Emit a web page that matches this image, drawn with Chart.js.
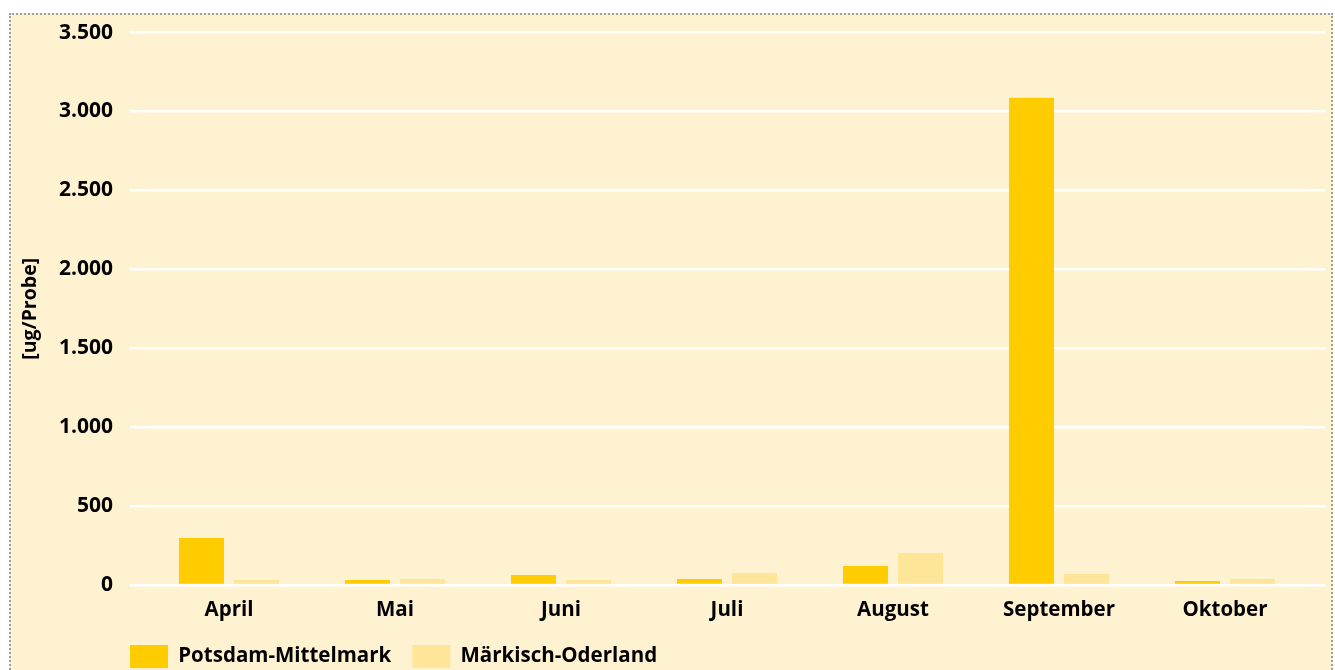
<!DOCTYPE html>
<html>
<head>
<meta charset="utf-8">
<script src="https://cdn.jsdelivr.net/npm/chart.js@4/dist/chart.umd.min.js"></script>
<style>
  html, body { margin: 0; padding: 0; background: #ffffff; overflow: hidden; width: 1335px; height: 670px; }
  #box { position: absolute; left: 9px; top: 13px; width: 1320px; height: 680px;
         border: 2px dotted #a0a0a0; background: #FFF2D1; }
  #wrap { position: absolute; left: 0; top: -12px; width: 1320px; height: 675px; }
</style>
</head>
<body>
<div id="box"><div id="wrap"><canvas id="c"></canvas></div></div>
<script>
const categories = ['April', 'Mai', 'Juni', 'Juli', 'August', 'September', 'Oktober'];
const potsdamMittelmark = [298, 32, 63, 38, 120, 3088, 25];
const maerkischOderland = [32, 38, 32, 76, 203, 70, 38];
const seriesNames = ['Potsdam-Mittelmark', 'Märkisch-Oderland'];
const yTicks = [0, 500, 1000, 1500, 2000, 2500, 3000, 3500];
const yTitle = '[ug/Probe]';

const FONT = '"Open Sans", "DejaVu Sans", sans-serif';

const legendShift = {
  id: 'legendShift',
  afterLayout(chart) {
    const lg = chart.legend;
    if (!lg) return;
    const target = chart.chartArea.left - 16 - lg.options.labels.padding;
    const dx = target - lg.left;
    lg.left += dx; lg.right += dx;
    if (lg.legendHitBoxes) lg.legendHitBoxes.forEach(h => { h.left += dx; });
  }
};

new Chart(document.getElementById('c'), {
  type: 'bar',
  data: {
    labels: categories,
    datasets: [
      { label: seriesNames[0], data: potsdamMittelmark, backgroundColor: '#FFCC00',
        barPercentage: 0.818, categoryPercentage: 0.663 },
      { label: seriesNames[1], data: maerkischOderland, backgroundColor: '#FFE598',
        barPercentage: 0.818, categoryPercentage: 0.663 }
    ]
  },
  options: {
    responsive: true,
    maintainAspectRatio: false,
    animation: false,
    layout: { padding: { top: 7, left: 0, right: 0, bottom: 0 } },
    plugins: {
      tooltip: { enabled: false },
      legend: {
        position: 'bottom',
        align: 'start',
        labels: {
          boxWidth: 38, boxHeight: 23, padding: 21,
          color: '#000000',
          font: { family: FONT, size: 20.5, weight: 'bold' }
        }
      }
    },
    scales: {
      x: {
        grid: { display: false },
        border: { display: false },
        ticks: { color: '#000000', padding: 5, font: { family: FONT, size: 20.5, weight: 'bold' } },
        afterFit(s) { s.height = 39; }
      },
      y: {
        min: 0, max: 3500,
        afterBuildTicks(s) { s.ticks = yTicks.map(v => ({ value: v })); },
        grid: { color: '#ffffff', lineWidth: 2.5, drawTicks: true, tickLength: 16, tickColor: '#ffffff' },
        border: { display: false },
        ticks: {
          color: '#000000', padding: 17,
          font: { family: FONT, size: 21, weight: 'bold' },
          callback: v => v.toLocaleString('de-DE')
        },
        title: { display: true, text: yTitle, color: '#000000', padding: { top: 8, bottom: 0 },
                 font: { family: FONT, size: 19.5, weight: 'bold' } },
        afterFit(s) { s.width = 135; }
      },
      y2: {
        position: 'right',
        min: 0, max: 3500,
        afterBuildTicks(s) { s.ticks = yTicks.map(v => ({ value: v })); },
        grid: { color: '#ffffff', lineWidth: 2.5, drawOnChartArea: false, drawTicks: true, tickLength: 17, tickColor: '#ffffff' },
        border: { display: false },
        ticks: { display: false },
        afterFit(s) { s.width = 23; }
      }
    }
  },
  plugins: [legendShift]
});
</script>
</body>
</html>
